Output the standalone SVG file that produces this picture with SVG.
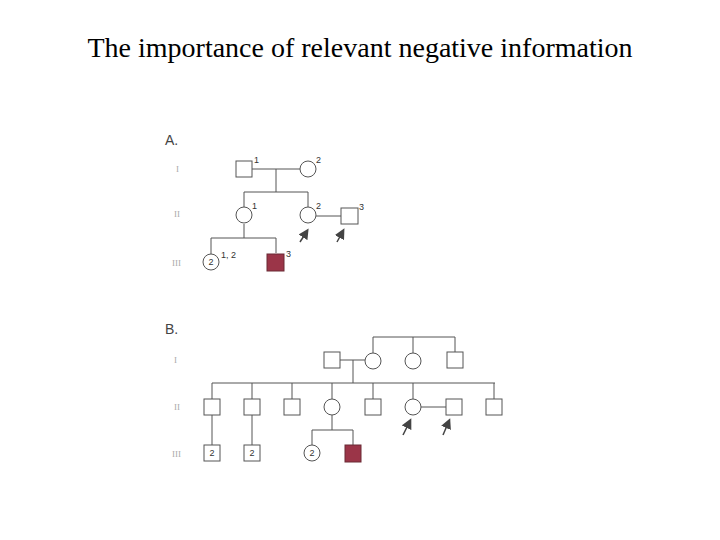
<svg xmlns="http://www.w3.org/2000/svg" width="720" height="540" viewBox="0 0 720 540">
<style>
.s{fill:#fff;stroke:#555;stroke-width:1}
.f{fill:#9b3548;stroke:#6a2a35;stroke-width:1}
.l{stroke:#555;stroke-width:1;fill:none}
.t{font-family:"Liberation Sans",Arial,sans-serif;font-size:9px;fill:#333}
.r{font-family:"Liberation Serif",serif;font-size:9px;fill:#aaa}
.h{font-family:"Liberation Sans",Arial,sans-serif;font-size:14px;fill:#444}
.a{stroke:#444;stroke-width:1.5;marker-end:url(#ah)}
</style>
<defs><marker id="ah" markerWidth="7" markerHeight="7" refX="5" refY="3.5" orient="auto"><path d="M0,0L7,3.5L0,7z" fill="#444"/></marker></defs>
<rect width="720" height="540" fill="#fff"/>
<text x="360" y="57" text-anchor="middle" font-family="Liberation Serif,serif" font-size="28">The importance of relevant negative information</text>
<g id="connectors">
<path class="l" d="M252 169H300M276 169V192M244 192H308M244 192V207M308 192V207M316 216H341M244 224V238M211 238H276M211 238V254M276 238V253"/>
<line class="a" x1="300" y1="242" x2="307" y2="231"/>
<line class="a" x1="337" y1="242" x2="343" y2="231"/>
<path class="l" d="M373 337H455M373 337V353M413 337V353M455 337V352M340 360H365M353 360V383M212 383H495M212 383V399M252 383V399M292 383V399M332 383V399M373 383V399M413 383V399M494 383V399M421 407H446M212 415V445M252 415V445M332 415V430M312 430H353M312 430V445M353 430V445"/>
<line class="a" x1="403" y1="435" x2="410" y2="421"/>
<line class="a" x1="443" y1="435" x2="449" y2="421"/>
</g>
<g id="labelsA"><text class="h" x="165" y="145">A.</text><text class="r" x="176" y="172">I</text><text class="r" x="174" y="217">II</text><text class="r" x="172" y="266">III</text></g>
<g id="A-I-1"><rect class="s" x="236" y="161" width="16" height="16"/><text class="t" x="254" y="163">1</text></g>
<g id="A-I-2"><circle class="s" cx="308" cy="169" r="8"/><text class="t" x="316" y="163">2</text></g>
<g id="A-II-1"><circle class="s" cx="244" cy="215" r="8"/><text class="t" x="252" y="209">1</text></g>
<g id="A-II-2"><circle class="s" cx="308" cy="215" r="8"/><text class="t" x="316" y="209">2</text></g>
<g id="A-II-3"><rect class="s" x="341" y="208" width="17" height="16"/><text class="t" x="359" y="210">3</text></g>
<g id="A-III-1"><circle class="s" cx="211" cy="262" r="8"/><text class="t" x="211" y="265" text-anchor="middle">2</text><text class="t" x="221" y="258">1, 2</text></g>
<g id="A-III-3"><rect class="f" x="267" y="254" width="17" height="17"/><text class="t" x="286" y="257">3</text></g>
<g id="labelsB"><text class="h" x="165" y="334">B.</text><text class="r" x="174" y="363">I</text><text class="r" x="174" y="410">II</text><text class="r" x="172" y="457">III</text></g>
<g id="B-I-1"><rect class="s" x="324" y="352" width="16" height="16"/></g>
<g id="B-I-2"><circle class="s" cx="373" cy="361" r="8"/></g>
<g id="B-I-3"><circle class="s" cx="413" cy="361" r="8"/></g>
<g id="B-I-4"><rect class="s" x="447" y="352" width="16" height="16"/></g>
<g id="B-II-1"><rect class="s" x="204" y="399" width="16" height="16"/></g>
<g id="B-II-2"><rect class="s" x="244" y="399" width="16" height="16"/></g>
<g id="B-II-3"><rect class="s" x="284" y="399" width="16" height="16"/></g>
<g id="B-II-4"><circle class="s" cx="332" cy="407" r="8"/></g>
<g id="B-II-5"><rect class="s" x="365" y="399" width="16" height="16"/></g>
<g id="B-II-6"><circle class="s" cx="413" cy="407" r="8"/></g>
<g id="B-II-7"><rect class="s" x="446" y="399" width="16" height="16"/></g>
<g id="B-II-8"><rect class="s" x="486" y="399" width="16" height="16"/></g>
<g id="B-III-1"><rect class="s" x="204" y="445" width="16" height="16"/><text class="t" x="212" y="456" text-anchor="middle">2</text></g>
<g id="B-III-2"><rect class="s" x="244" y="445" width="16" height="16"/><text class="t" x="252" y="456" text-anchor="middle">2</text></g>
<g id="B-III-3"><circle class="s" cx="312" cy="453" r="8"/><text class="t" x="312" y="456" text-anchor="middle">2</text></g>
<g id="B-III-4"><rect class="f" x="345" y="445" width="16" height="17"/></g>
</svg>
